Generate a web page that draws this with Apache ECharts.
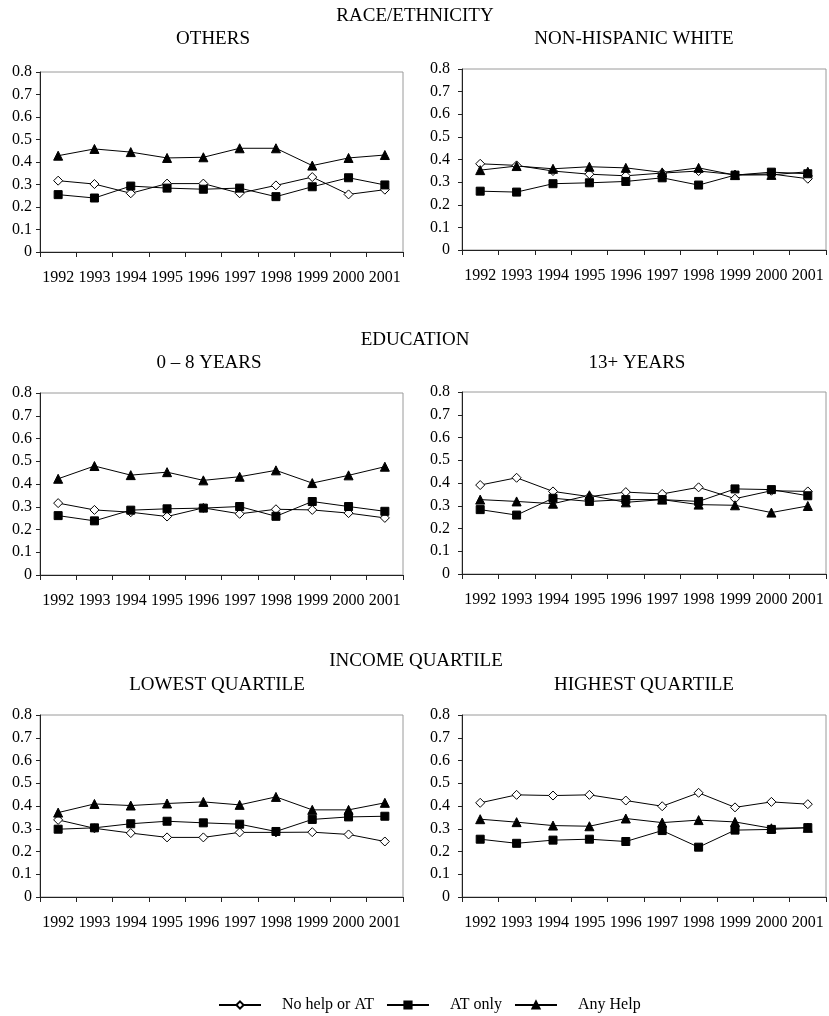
<!DOCTYPE html>
<html>
<head>
<meta charset="utf-8">
<script src="https://cdn.jsdelivr.net/npm/echarts@6/dist/echarts.min.js"></script>
<style>
	html,body{margin:0;padding:0;background:#fff;}
	#main{width:829px;height:1016px;}
</style>
</head>
<body>
<div id="main"></div>
<script>
var years = ['1992','1993','1994','1995','1996','1997','1998','1999','2000','2001'];
var yTicks = [0, 0.1, 0.2, 0.3, 0.4, 0.5, 0.6, 0.7, 0.8];

// RACE/ETHNICITY - OTHERS
var othersNone = [0.317,0.302,0.261,0.304,0.304,0.261,0.296,0.333,0.256,0.277];
var othersAT   = [0.255,0.240,0.293,0.284,0.279,0.284,0.246,0.290,0.330,0.298];
var othersAny  = [0.428,0.458,0.444,0.418,0.421,0.461,0.461,0.384,0.418,0.431];
// RACE/ETHNICITY - NON-HISPANIC WHITE
var whiteNone = [0.381,0.374,0.349,0.335,0.328,0.340,0.349,0.333,0.336,0.315];
var whiteAT   = [0.260,0.256,0.293,0.297,0.303,0.319,0.287,0.331,0.344,0.337];
var whiteAny  = [0.353,0.371,0.359,0.368,0.363,0.343,0.363,0.331,0.332,0.346];
// EDUCATION - 0-8 YEARS
var eduLowNone = [0.316,0.286,0.276,0.257,0.295,0.269,0.289,0.286,0.272,0.251];
var eduLowAT   = [0.261,0.238,0.285,0.291,0.294,0.301,0.258,0.323,0.301,0.280];
var eduLowAny  = [0.423,0.479,0.439,0.452,0.416,0.432,0.460,0.404,0.438,0.476];
// EDUCATION - 13+ YEARS
var eduHighNone = [0.391,0.423,0.363,0.340,0.360,0.352,0.381,0.331,0.366,0.363];
var eduHighAT   = [0.283,0.259,0.333,0.319,0.327,0.327,0.319,0.374,0.371,0.344];
var eduHighAny  = [0.327,0.319,0.309,0.346,0.315,0.327,0.305,0.302,0.270,0.299];
// INCOME QUARTILE - LOWEST
var incLowNone = [0.339,0.302,0.281,0.262,0.262,0.284,0.284,0.285,0.275,0.244];
var incLowAT   = [0.298,0.304,0.322,0.333,0.326,0.320,0.288,0.341,0.352,0.355];
var incLowAny  = [0.371,0.409,0.402,0.411,0.418,0.405,0.440,0.383,0.383,0.414];
// INCOME QUARTILE - HIGHEST
var incHighNone = [0.414,0.449,0.446,0.449,0.424,0.399,0.458,0.394,0.418,0.408];
var incHighAT   = [0.254,0.236,0.250,0.254,0.244,0.292,0.219,0.294,0.297,0.305];
var incHighAny  = [0.342,0.329,0.314,0.311,0.345,0.327,0.338,0.330,0.302,0.304];

var panels = [
	{none: othersNone,  at: othersAT,  any: othersAny},
	{none: whiteNone,   at: whiteAT,   any: whiteAny},
	{none: eduLowNone,  at: eduLowAT,  any: eduLowAny},
	{none: eduHighNone, at: eduHighAT, any: eduHighAny},
	{none: incLowNone,  at: incLowAT,  any: incLowAny},
	{none: incHighNone, at: incHighAT, any: incHighAny}
];

var FONT = '"Liberation Serif","DejaVu Serif",serif';

// plot boxes
var grids = [
	{left: 40,  top: 72,  width: 363, height: 180},
	{left: 462, top: 69,  width: 364, height: 181},
	{left: 40,  top: 393, width: 363, height: 182},
	{left: 462, top: 392, width: 364, height: 182},
	{left: 40,  top: 715, width: 363, height: 182},
	{left: 462, top: 715, width: 364, height: 182}
];

var titles = [
	['RACE/ETHNICITY', 415, 16],
	['OTHERS', 213, 39],
	['NON-HISPANIC WHITE', 634, 39],
	['EDUCATION', 415, 340],
	['0 \u2013 8 YEARS', 209, 363],
	['13+ YEARS', 637, 363],
	['INCOME QUARTILE', 416, 661],
	['LOWEST QUARTILE', 217, 685],
	['HIGHEST QUARTILE', 644, 685]
];

function lineSeries(name, idx, data, symbol, size, fill){
	return {
		name: name,
		type: 'line',
		xAxisIndex: idx,
		yAxisIndex: idx,
		data: data,
		symbol: symbol,
		symbolSize: size,
		showAllSymbol: true,
		lineStyle: {color: '#000', width: 1},
		itemStyle: {color: fill, borderColor: '#000', borderWidth: 1}
	};
}

var xAxes = [], yAxes = [], series = [];
grids.forEach(function(g, i){
	g.show = true;
	g.borderColor = '#9a9a9a';
	g.borderWidth = 1;
	g.backgroundColor = 'transparent';
	g.containLabel = false;
	g.outerBoundsMode = 'none';
	xAxes.push({
		gridIndex: i,
		type: 'category',
		data: years,
		boundaryGap: true,
		axisLine: {lineStyle: {color: '#222', width: 1}},
		axisTick: {show: true, length: 5, lineStyle: {color: '#222'}},
		axisLabel: {interval: 0, margin: 18, color: '#000', fontFamily: FONT, fontSize: 16},
		splitLine: {show: false}
	});
	yAxes.push({
		gridIndex: i,
		type: 'value',
		min: yTicks[0],
		max: yTicks[yTicks.length - 1],
		interval: 0.1,
		axisLine: {show: true, lineStyle: {color: '#222', width: 1}},
		axisTick: {show: true, length: 4, lineStyle: {color: '#222'}},
		axisLabel: {margin: i % 2 ? 12 : 8, color: '#000', fontFamily: FONT, fontSize: 16},
		splitLine: {show: false}
	});
	var p = panels[i];
	series.push(lineSeries('No help or AT', i, p.none, 'diamond', 9, '#fff'));
	series.push(lineSeries('AT only', i, p.at, 'rect', 8, '#000'));
	series.push(lineSeries('Any Help', i, p.any, 'triangle', 9, '#000'));
});

var graphics = titles.map(function(t){
	return {
		type: 'text',
		x: t[1],
		y: t[2],
		style: {
			text: t[0],
			fill: '#000',
			font: '19px ' + FONT,
			textAlign: 'center',
			textVerticalAlign: 'middle'
		}
	};
});

var chart = echarts.init(document.getElementById('main'));
chart.setOption({
	animation: false,
	backgroundColor: '#fff',
	grid: grids,
	xAxis: xAxes,
	yAxis: yAxes,
	graphic: graphics,
	legend: {
		data: ['No help or AT', 'AT only', 'Any Help'],
		left: 213,
		top: 992,
		itemWidth: 42,
		itemHeight: 9,
		itemGap: 12,
		textStyle: {color: '#000', fontFamily: FONT, fontSize: 16, padding: [0, 0, 0, 16]}
	},
	series: series
});
</script>
</body>
</html>
